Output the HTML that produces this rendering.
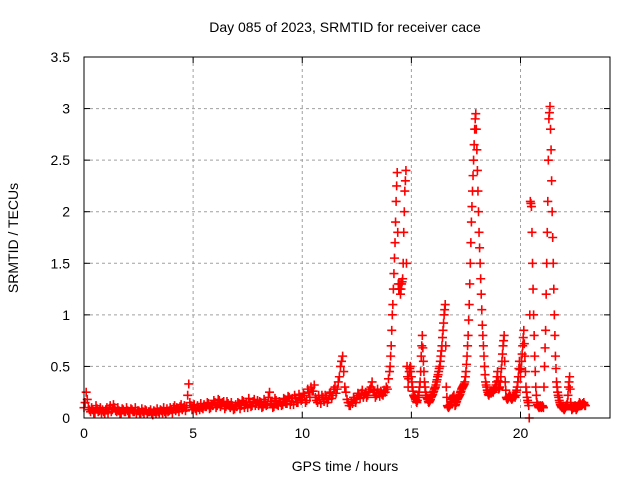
<!DOCTYPE html>
<html><head><meta charset="utf-8"><style>
body{margin:0;background:#fff}
svg{display:block;font-family:"Liberation Sans",sans-serif}
</style></head><body>
<svg id="chart" width="640" height="480" viewBox="0 0 640 480" xmlns="http://www.w3.org/2000/svg">
<rect width="640" height="480" fill="#fff"/>
<text x="345" y="32" font-size="14" text-anchor="middle">Day 085 of 2023, SRMTID for receiver cace</text>
<text x="345" y="471" font-size="14" text-anchor="middle">GPS time / hours</text>
<text transform="translate(18,238) rotate(-90)" font-size="14" text-anchor="middle">SRMTID / TECUs</text>
<g id="grid"></g>
<g id="marks"></g>
<rect x="84" y="57" width="526" height="361" fill="none" stroke="#000" stroke-width="1"/>
<g id="ticks"></g>
</svg>
<script>
const xTicks = [0, 5, 10, 15, 20];
const xTickLabels = ["0", "5", "10", "15", "20"];
const yTicks = [0, 0.5, 1, 1.5, 2, 2.5, 3, 3.5];
const yTickLabels = ["0", "0.5", "1", "1.5", "2", "2.5", "3", "3.5"];
const baseStart = 0, baseStep = 0.1;
const baseValues = [
0.1,0.25,0.1,0.06,0.08,0.05,0.09,0.07,0.05,0.06,
0.08,0.05,0.12,0.08,0.1,0.06,0.07,0.05,0.08,0.06,
0.07,0.05,0.08,0.06,0.04,0.07,0.05,0.06,0.08,0.04,
0.06,0.05,0.07,0.04,0.06,0.08,0.05,0.06,0.09,0.07,
0.08,0.1,0.07,0.09,0.11,0.08,0.12,0.1,0.33,0.12,
0.1,0.09,0.12,0.08,0.1,0.13,0.11,0.14,0.1,0.12,
0.15,0.12,0.17,0.13,0.16,0.11,0.14,0.1,0.12,0.09,
0.11,0.14,0.12,0.16,0.13,0.1,0.15,0.12,0.18,0.14,
0.12,0.15,0.11,0.16,0.13,0.25,0.14,0.11,0.17,0.12,
0.15,0.13,0.18,0.14,0.2,0.16,0.13,0.19,0.15,0.2,
0.18,0.22,0.17,0.25,0.3,0.26,0.2,0.15,0.18,0.22,
0.16,0.2,0.18,0.25,0.22,0.3,0.28,0.4,0.55,0.45,
0.25,0.15,0.12,0.14,0.18,0.2,0.22,0.24,0.2,0.25,
0.22,0.28,0.35,0.25,0.22,0.24,0.26,0.22,0.25,0.28];
const base2Start = 0.05, base2Step = 0.1;
const base2Values = [
0.15,0.18,0.08,0.1,0.05,0.12,0.06,0.1,0.08,0.04,
0.1,0.09,0.06,0.13,0.07,0.1,0.04,0.09,0.06,0.1,
0.05,0.09,0.06,0.1,0.07,0.05,0.09,0.04,0.07,0.06,
0.08,0.03,0.06,0.09,0.05,0.07,0.1,0.04,0.06,0.1,
0.05,0.12,0.1,0.06,0.13,0.1,0.07,0.22,0.15,0.08,
0.13,0.07,0.1,0.14,0.09,0.11,0.15,0.09,0.13,0.17,
0.1,0.18,0.11,0.15,0.09,0.16,0.12,0.15,0.08,0.13,
0.15,0.09,0.17,0.1,0.15,0.19,0.11,0.16,0.12,0.17,
0.16,0.1,0.18,0.12,0.2,0.16,0.1,0.19,0.13,0.16,
0.12,0.19,0.14,0.21,0.13,0.19,0.22,0.15,0.23,0.17,
0.24,0.15,0.28,0.2,0.26,0.32,0.17,0.22,0.14,0.2,
0.22,0.15,0.24,0.19,0.28,0.24,0.35,0.5,0.6,0.3,
0.18,0.12,0.16,0.2,0.15,0.24,0.19,0.27,0.23,0.2,
0.26,0.3,0.27,0.2,0.28,0.21,0.23,0.27,0.3,0.38];
const peakStart = 14, peakStep = 0.05;
const peakValues = [
0.45,0.6,0.85,1.1,1.4,1.7,2.1,2.38,1.3,1.25,
1.2,1.3,1.35,1.8,2.2,2.4,0.5,0.3,0.45,0.5,
0.4,0.3,0.22,0.2,0.18,0.15,0.2,0.25,0.35,0.6,
0.8,0.55,0.35,0.25,0.2,0.18,0.15,0.17,0.2,0.22,
0.25,0.28,0.3,0.35,0.4,0.45,0.5,0.6,0.7,0.85,
1.0,1.1,0.3,0.12,0.1,0.12,0.15,0.18,0.2,0.22,
0.12,0.15,0.18,0.2,0.22,0.25,0.28,0.3,0.32,0.35,
0.45,0.6,0.8,1.1,1.5,1.9,2.2,2.5,2.8,2.95,
2.6,2.2,1.8,1.5,1.2,0.9,0.7,0.5,0.35,0.3,
0.25,0.22,0.25,0.24,0.26,0.25,0.28,0.3,0.35,0.45,
0.28,0.3,0.4,0.55,0.7,0.8,0.35,0.2,0.18,0.2,
0.22,0.2,0.18,0.2,0.22,0.2,0.25,0.3,0.4,0.55,
0.4,0.55,0.7,0.85,0.6,0.3,0.2,0.15,0.0,2.1,
2.05,1.5,1.0,0.6,0.3,0.15,0.12,0.1,0.12,0.1,
0.12,0.1,0.5,0.85,1.5,2.1,2.9,3.02,2.6,2.0,
1.5,1.0,0.6,0.35,0.25,0.2,0.15,0.12,0.1,0.1,
0.08,0.1,0.12,0.15,0.3,0.4,0.15,0.08,0.1,0.1,
0.12,0.08,0.1,0.12,0.15,0.13,0.12,0.14,0.15,0.12];
const peak2Start = 14.025, peak2Step = 0.05;
const peak2Values = [
0.5,0.7,1.0,1.25,1.55,1.9,2.25,1.8,1.25,1.3,
1.25,1.32,1.5,2.0,2.3,1.5,0.4,0.38,0.48,0.45,
0.35,0.26,0.21,0.19,0.16,0.17,0.22,0.3,0.45,0.7,
0.68,0.45,0.3,0.22,0.19,0.16,0.16,0.18,0.21,0.23,
0.26,0.29,0.32,0.37,0.42,0.48,0.55,0.65,0.78,0.92,
1.05,0.7,0.2,0.11,0.11,0.13,0.16,0.19,0.21,0.17,
0.13,0.16,0.19,0.21,0.23,0.26,0.29,0.31,0.33,0.4,
0.52,0.7,0.95,1.3,1.7,2.05,2.35,2.65,2.9,2.8,
2.4,2.0,1.65,1.35,1.05,0.8,0.6,0.42,0.32,0.27,
0.23,0.24,0.25,0.25,0.26,0.27,0.29,0.32,0.4,0.36,
0.29,0.35,0.48,0.62,0.75,0.55,0.27,0.19,0.19,0.21,
0.21,0.19,0.19,0.21,0.21,0.22,0.27,0.35,0.48,0.47,
0.48,0.62,0.78,0.72,0.45,0.25,0.17,0.12,1.0,2.08,
1.8,1.25,0.8,0.45,0.22,0.13,0.11,0.11,0.11,0.11,
0.11,0.3,0.68,1.2,1.8,2.5,2.96,2.8,2.3,1.75,
1.25,0.8,0.48,0.3,0.22,0.17,0.13,0.11,0.1,0.09,
0.09,0.11,0.13,0.22,0.35,0.28,0.11,0.09,0.1,0.11,
0.1,0.09,0.11,0.13,0.14,0.12,0.13,0.14,0.13,0.12];

const X0 = 84, X1 = 610, Y0 = 418, Y1 = 57;
function xScale(h){ return X0 + h * (X1 - X0) / 24.1; }
function yScale(v){ return Y0 - v * (Y0 - Y1) / 3.5; }
const NS = "http://www.w3.org/2000/svg";
function mk(tag, attrs, parent){ const e = document.createElementNS(NS, tag); for (const k in attrs) e.setAttribute(k, attrs[k]); parent.appendChild(e); return e; }
const grid = document.getElementById('grid'), ticks = document.getElementById('ticks'), marks = document.getElementById('marks');
xTicks.forEach((t, i) => {
  const x = xScale(t);
  if (t > 0) {
    const g = mk('line', {x1:x, x2:x, y1:Y1, y2:Y0, stroke:'#a0a0a0', 'stroke-dasharray':'3,3'}, grid);
    
    
  }
  mk('line', {x1:x, x2:x, y1:Y0, y2:Y0-6, stroke:'#000'}, ticks);
  mk('line', {x1:x, x2:x, y1:Y1, y2:Y1+6, stroke:'#000'}, ticks);
  const tx = mk('text', {x:x, y:Y0+20, 'font-size':14, 'text-anchor':'middle'}, ticks);
  tx.textContent = xTickLabels[i];
  
  
});
yTicks.forEach((t, i) => {
  const y = yScale(t);
  if (t > 0 && t < 3.5) {
    const g = mk('line', {x1:X0, x2:X1, y1:y, y2:y, stroke:'#a0a0a0', 'stroke-dasharray':'3,3'}, grid);
    
    
  }
  mk('line', {x1:X0, x2:X0+6, y1:y, y2:y, stroke:'#000'}, ticks);
  mk('line', {x1:X1, x2:X1-6, y1:y, y2:y, stroke:'#000'}, ticks);
  const tx = mk('text', {x:X0-14, y:y+5, 'font-size':14, 'text-anchor':'end'}, ticks);
  tx.textContent = yTickLabels[i];
  
  
});
function plus(h, v){
  const x = xScale(h), y = yScale(v);
  const p = mk('path', {d:`M${x-4.5},${y}H${x+4.5}M${x},${y-4.5}V${y+4.5}`, stroke:'#f00', 'stroke-width':1.6, fill:'none'}, marks);
  
  
}
baseValues.forEach((v, i) => plus(baseStart + i * baseStep, v));
base2Values.forEach((v, i) => plus(base2Start + i * base2Step, v));
peakValues.forEach((v, i) => plus(peakStart + i * peakStep, v));
peak2Values.forEach((v, i) => plus(peak2Start + i * peak2Step, v));
</script>
</body></html>
